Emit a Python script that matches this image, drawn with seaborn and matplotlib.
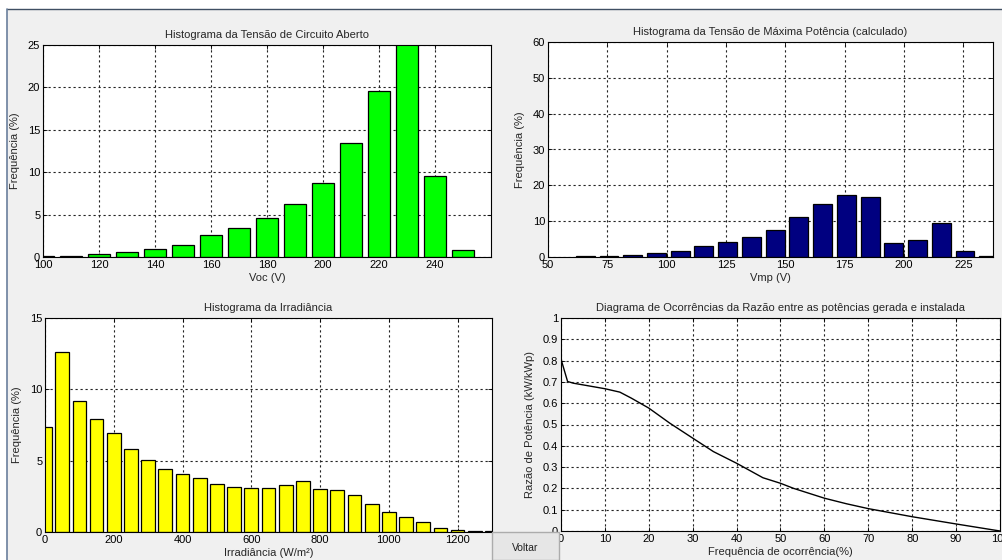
import numpy as np
import pandas as pd
import matplotlib
matplotlib.use("Agg")
import matplotlib.pyplot as plt
import seaborn as sns
from matplotlib.patches import Rectangle
from matplotlib.lines import Line2D

# ---------------- data ----------------
voc_centers = [100, 110, 120, 130, 140, 150, 160, 170, 180, 190, 200, 210, 220, 230, 240, 250]
voc_freq = [0.15, 0.1, 0.3, 0.6, 0.95, 1.45, 2.55, 3.45, 4.65, 6.2, 8.7, 13.5, 19.6, 27.5, 9.5, 0.8]

vmp_centers = [65.7, 75.7, 85.7, 95.7, 105.7, 115.7, 125.7, 135.7, 145.7, 155.7,
               165.7, 175.7, 185.7, 195.7, 205.7, 215.7, 225.7, 235.7]
vmp_freq = [0.2, 0.2, 0.6, 1.1, 1.8, 3.0, 4.2, 5.6, 7.5, 11.1,
            14.9, 17.3, 16.7, 3.9, 4.8, 9.4, 1.6, 0.3]

irr_centers = [0, 50, 100, 150, 200, 250, 300, 350, 400, 450, 500, 550, 600, 650,
               700, 750, 800, 850, 900, 950, 1000, 1050, 1100, 1150, 1200, 1250, 1300]
irr_freq = [7.36, 12.6, 9.2, 7.9, 6.94, 5.8, 5.02, 4.42, 4.07, 3.76, 3.36, 3.18, 3.1, 3.1,
            3.3, 3.57, 3.0, 2.94, 2.57, 1.96, 1.4, 1.07, 0.72, 0.3, 0.16, 0.07, 0.07]

ratio_occ = [0, 0.1, 1.5, 2.8, 10, 13.4, 16, 20, 24.8, 30, 34.7, 40, 46, 50, 53,
             60, 65, 70, 80, 90, 100]
ratio_val = [0.828, 0.80, 0.702, 0.694, 0.668, 0.652, 0.624, 0.577, 0.506, 0.436, 0.373,
             0.318, 0.25, 0.224, 0.2, 0.154, 0.128, 0.105, 0.067, 0.033, 0.0]

voc_ticks = [100, 120, 140, 160, 180, 200, 220, 240]
vmp_ticks = [50, 75, 100, 125, 150, 175, 200, 225]
irr_ticks = [0, 200, 400, 600, 800, 1000, 1200]
ratio_xticks = [0, 10, 20, 30, 40, 50, 60, 70, 80, 90, 100]
ratio_yticks = [0, 0.1, 0.2, 0.3, 0.4, 0.5, 0.6, 0.7, 0.8, 0.9, 1]

# ---------------- style ----------------
sns.set_theme(style="ticks")
plt.rcParams['font.family'] = ['Liberation Sans', 'DejaVu Sans']
plt.rcParams['font.size'] = 8
plt.rcParams['axes.linewidth'] = 0.8
plt.rcParams['xtick.direction'] = 'in'
plt.rcParams['ytick.direction'] = 'in'

W, H = 1003, 560
fig = plt.figure(figsize=(W / 100, H / 100), dpi=100, facecolor='#f0f0f0')


def box(l, t, r, b):
    return [l / W, 1 - b / H, (r - l) / W, (b - t) / H]


def style_ax(ax):
    ax.set_facecolor('white')
    for s in ax.spines.values():
        s.set_visible(True)
        s.set_color('black')
        s.set_linewidth(0.8)
    ax.grid(True, color='#222222', linestyle=(0, (2, 2.5)), linewidth=0.8)
    ax.set_axisbelow(True)
    ax.tick_params(axis='both', labelsize=8, length=3, width=0.6, pad=2,
                   top=True, right=True, colors='black')


# Panel 1: Voc
ax1 = fig.add_axes(box(43, 45, 491, 257))
sns.barplot(x=voc_centers, y=voc_freq, native_scale=True, color='#00ff00', saturation=1,
            edgecolor='black', linewidth=0.9, width=0.8, errorbar=None, ax=ax1)
style_ax(ax1)
ax1.set_xlim(100, 260)
ax1.set_ylim(0, 25)
ax1.set_xticks(voc_ticks)
ax1.set_yticks([0, 5, 10, 15, 20, 25])
ax1.set_title('Histograma da Tensão de Circuito Aberto', fontsize=8, pad=5)
ax1.set_xlabel('Voc (V)', fontsize=8, labelpad=2)
ax1.set_ylabel('Frequência (%)', fontsize=8, labelpad=6)

# Panel 2: Vmp
ax2 = fig.add_axes(box(548, 42, 993, 257))
sns.barplot(x=vmp_centers, y=vmp_freq, native_scale=True, color='#000080', saturation=1,
            edgecolor='black', linewidth=0.9, width=0.8, errorbar=None, ax=ax2)
style_ax(ax2)
ax2.set_xlim(50, 237.5)
ax2.set_ylim(0, 60)
ax2.set_xticks(vmp_ticks)
ax2.set_yticks([0, 10, 20, 30, 40, 50, 60])
ax2.set_title('Histograma da Tensão de Máxima Potência (calculado)', fontsize=8, pad=5)
ax2.set_xlabel('Vmp (V)', fontsize=8, labelpad=2)
ax2.set_ylabel('Frequência (%)', fontsize=8, labelpad=6)

# Panel 3: Irradiance
ax3 = fig.add_axes(box(45, 318, 492, 532))
sns.barplot(x=irr_centers, y=irr_freq, native_scale=True, color='#ffff00', saturation=1,
            edgecolor='black', linewidth=0.9, width=0.8, errorbar=None, ax=ax3)
style_ax(ax3)
ax3.set_xlim(0, 1300)
ax3.set_ylim(0, 15)
ax3.set_xticks(irr_ticks)
ax3.set_yticks([0, 5, 10, 15])
ax3.set_title('Histograma da Irradiância', fontsize=8, pad=5)
ax3.set_xlabel('Irradiância (W/m²)', fontsize=8, labelpad=2)
ax3.set_ylabel('Frequência (%)', fontsize=8, labelpad=6)

# Panel 4: ratio
ax4 = fig.add_axes(box(561, 318, 1000, 531))
sns.lineplot(x=ratio_occ, y=ratio_val, sort=False, estimator=None, color='black',
             linewidth=1.0, ax=ax4)
style_ax(ax4)
ax4.set_xlim(0, 100)
ax4.set_ylim(0, 1)
ax4.set_xticks(ratio_xticks)
ax4.set_yticks(ratio_yticks)
ax4.set_yticklabels(['0', '0.1', '0.2', '0.3', '0.4', '0.5', '0.6', '0.7', '0.8', '0.9', '1'])
ax4.set_title('Diagrama de Ocorrências da Razão entre as potências gerada e instalada',
              fontsize=8, pad=5)
ax4.set_xlabel('Frequência de ocorrência(%)', fontsize=8, labelpad=2)
ax4.set_ylabel('Razão de Potência (kW/kWp)', fontsize=8, labelpad=6)

# Window frame
fig.add_artist(Rectangle((0, 1 - 9 / H), 1, 9 / H, transform=fig.transFigure,
                         facecolor='white', edgecolor='none', zorder=10))
fig.add_artist(Rectangle((0, 0), 7.5 / W, 1, transform=fig.transFigure,
                         facecolor='white', edgecolor='none', zorder=10))
fig.add_artist(Line2D([7.5 / W, 1], [1 - 9 / H, 1 - 9 / H], transform=fig.transFigure,
                      color='#3f4f63', linewidth=1.0, zorder=11))
fig.add_artist(Line2D([7.5 / W, 7.5 / W], [0, 1 - 9 / H], transform=fig.transFigure,
                      color='#6a7f9c', linewidth=1.2, zorder=11))

# "Voltar" button
fig.add_artist(Rectangle((492 / W, 0), (559 - 492) / W, (560 - 532) / H,
                         transform=fig.transFigure, facecolor='#e6e6e6',
                         edgecolor='#acacac', linewidth=1.0, zorder=12))
fig.text(525.5 / W, 1 - 548 / H, 'Voltar', ha='center', va='center', fontsize=7.5,
         color='#222222', zorder=13)

fig.savefig('out.png', dpi=100, facecolor=fig.get_facecolor())
